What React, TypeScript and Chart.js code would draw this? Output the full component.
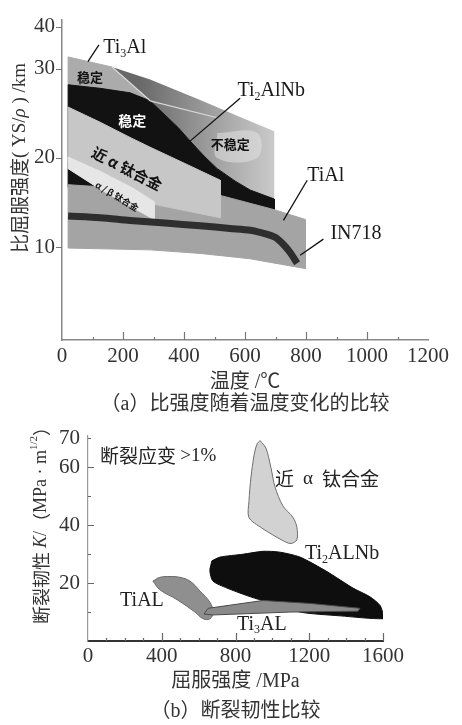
import { useEffect, useRef } from 'react';
import { Chart, registerables } from 'chart.js';

Chart.register(...registerables);

const SERIF = '"Liberation Serif", "Times New Roman", serif';
const MIXED = '"Liberation Serif", "Noto Sans CJK SC", serif';
const CJK = '"Noto Sans CJK SC", sans-serif';

Chart.defaults.font.family = SERIF;

type P = [number, number];

// ---------------- (a) specific yield strength vs temperature ----------------
const tempTicks = [0, 200, 400, 600, 800, 1000, 1200];
const tempMinor = [100, 300, 500, 700, 900, 1100];
const strengthTicks = [10, 20, 30, 40];

// [temperature °C, YS/ρ km]
const ti2alnbUnstable: P[] = [[164, 30.4], [289, 28.8], [453, 26.5], [584, 24.6], [696, 23.0], [696, 15.4], [617, 16.4], [568, 17.4], [509, 18.8], [469, 20.1], [420, 21.9], [381, 23.4], [338, 24.8], [289, 26.4]];
const ti3alStable: P[] = [[20, 32.8], [164, 30.4], [289, 26.4], [223, 27.3], [125, 27.8], [20, 28.2]];
const ti2alnbStable: P[] = [[20, 28.2], [125, 27.8], [223, 27.3], [289, 26.4], [338, 24.8], [381, 23.4], [420, 21.9], [469, 20.1], [509, 18.8], [568, 17.4], [617, 16.4], [696, 15.4], [696, 13.8], [519, 15.2], [289, 16.0], [20, 16.7]];
const tialA: P[] = [[20, 17.0], [289, 16.4], [519, 15.8], [696, 14.2], [798, 13.1], [798, 7.6], [716, 8.1], [617, 8.7], [453, 9.3], [289, 9.7], [20, 9.9]];
const nearAlphaA: P[] = [[20, 25.7], [125, 24.0], [223, 22.3], [289, 21.2], [420, 19.1], [519, 17.5], [519, 13.3], [302, 14.8], [190, 16.6], [92, 18.2], [20, 19.7]];
const alphaBeta: P[] = [[20, 20.1], [125, 18.5], [233, 16.6], [302, 15.1], [302, 13.1], [233, 14.4], [125, 16.5], [20, 18.8]];
const in718: P[] = [[20, 13.5], [125, 13.3], [223, 13.0], [338, 12.7], [453, 12.4], [551, 12.1], [617, 11.9], [667, 11.5], [699, 11.1], [726, 10.3], [748, 9.4], [771, 8.2]];
const ti3alEdge: P[] = [[164, 30.4], [289, 26.4], [509, 24.5]];
const unstablePatch: P[] = [[509, 22.8], [640, 22.8], [640, 20.0], [509, 20.0]];
const leaderTi3Al: P[] = [[121, 35.7], [85, 31.7]];
const leaderTi2AlNb: P[] = [[584, 26.7], [417, 21.8]];
const leaderTiAl: P[] = [[804, 17.5], [726, 13.0]];
const leaderIN718: P[] = [[857, 10.9], [781, 9.1]];

// the original y axis is compressed above 30 km
const compress = (v: number) => (v <= 30 ? v : 30 + (v - 30) * 0.47);
const expand = (u: number) => (u <= 30 ? u : 30 + (u - 30) / 0.47);

// ---------------- (b) fracture toughness vs yield strength ----------------
const ysTicks = [0, 400, 800, 1200, 1600];
const ysMinor = [100, 200, 300, 500, 600, 700, 900, 1000, 1100, 1300, 1400, 1500];
const kTicks = [20, 40, 60, 70];
const kMajor = [20, 40, 60];
const kMinor = [10, 30, 50, 70];

// [yield strength MPa, K MPa·m^1/2]
const nearAlphaB: P[] = [[933, 69.3], [965, 66.7], [992, 60], [1014, 53.3], [1057, 46.7], [1112, 42.7], [1133, 39.3], [1133, 35], [1101, 33.7], [1057, 34.7], [944, 39], [873, 42.7], [873, 48.3], [884, 56.7], [900, 64], [916, 68]];
const ti2alnbB: P[] = [[672, 27.7], [716, 29], [841, 30], [949, 31], [1041, 30.7], [1150, 29], [1296, 24], [1437, 18.3], [1529, 15.3], [1584, 12.3], [1600, 9.3], [1600, 7.7], [1367, 8.7], [1150, 10], [944, 14], [862, 15.7], [754, 18.3], [678, 20.7], [661, 24.3]];
const tialB: P[] = [[352, 20.7], [390, 22], [445, 22.3], [499, 22], [553, 20.7], [607, 17.3], [662, 13.3], [678, 10], [662, 7.7], [624, 7.7], [580, 10], [483, 14.3], [390, 17.7]];
const ti3alB: P[] = [[629, 9.3], [651, 11.3], [949, 14], [1204, 13], [1475, 11.3], [1464, 10.3], [1095, 10], [678, 9]];

interface Seg { t: string; sub?: boolean; sup?: boolean; italic?: boolean; latin?: boolean }
interface Note { segs: Seg[]; x: number; y: number; size: number; family: string; color: string; align: 'left' | 'center'; rot?: number; bold?: boolean }

const topNotes: Note[] = [
  { segs: [{ t: 'Ti' }, { t: '3', sub: true }, { t: 'Al' }], x: 135, y: 34.9, size: 20, family: SERIF, color: '#1a1a1a', align: 'left' },
  { segs: [{ t: '稳定' }], x: 92, y: 29.1, size: 13, family: CJK, color: '#111', align: 'center', bold: true },
  { segs: [{ t: '稳定' }], x: 230, y: 24.2, size: 14, family: CJK, color: '#fff', align: 'center', bold: true },
  { segs: [{ t: 'Ti' }, { t: '2', sub: true }, { t: 'AlNb' }], x: 575, y: 27.5, size: 20, family: SERIF, color: '#1a1a1a', align: 'left' },
  { segs: [{ t: '不稳定' }], x: 552, y: 21.6, size: 13, family: CJK, color: '#111', align: 'center', bold: true },
  { segs: [{ t: '近 α 钛合金' }], x: 213, y: 18.8, size: 15, family: CJK, color: '#111', align: 'center', bold: true, rot: 27 },
  { segs: [{ t: 'α / β 钛合金' }], x: 181, y: 15.7, size: 9, family: CJK, color: '#111', align: 'center', bold: true, rot: 31 },
  { segs: [{ t: 'TiAl' }], x: 804, y: 18.0, size: 20, family: SERIF, color: '#1a1a1a', align: 'left' },
  { segs: [{ t: 'IN718' }], x: 880, y: 11.5, size: 20, family: SERIF, color: '#1a1a1a', align: 'left' },
];

const bottomNotes: Note[] = [
  { segs: [{ t: '断裂应变 ' }, { t: '>1%', latin: true }], x: 65, y: 64, size: 19, family: CJK, color: '#222', align: 'left' },
  { segs: [{ t: '近 ' }, { t: ' α ', latin: true }, { t: ' 钛合金' }], x: 1014, y: 56, size: 19, family: CJK, color: '#222', align: 'left' },
  { segs: [{ t: 'Ti' }, { t: '2', sub: true }, { t: 'ALNb' }], x: 1177, y: 30, size: 20, family: SERIF, color: '#222', align: 'left' },
  { segs: [{ t: 'TiAL' }], x: 174, y: 14, size: 20, family: SERIF, color: '#222', align: 'left' },
  { segs: [{ t: 'Ti' }, { t: '3', sub: true }, { t: 'AL' }], x: 808, y: 5.7, size: 20, family: SERIF, color: '#222', align: 'left' },
];

const topYTitle: Note = { segs: [{ t: '比屈服强度' }, { t: '( YS/', latin: true }, { t: 'ρ', italic: true, latin: true }, { t: ' ) /km', latin: true }], x: 20, y: 158, size: 19, family: CJK, color: '#333', align: 'center', rot: -90 };
const bottomYTitle: Note = { segs: [{ t: '断裂韧性 ' }, { t: 'K', italic: true, latin: true }, { t: '/', latin: true }, { t: '（' }, { t: 'MPa · m', latin: true }, { t: '1/2', sup: true, latin: true }, { t: '）' }], x: 41, y: 106, size: 18, family: CJK, color: '#333', align: 'center', rot: -90 };

function drawNote(ctx: CanvasRenderingContext2D, n: Note, px: number, py: number) {
  ctx.save();
  ctx.translate(px, py);
  ctx.rotate(((n.rot || 0) * Math.PI) / 180);
  ctx.fillStyle = n.color;
  ctx.textBaseline = 'middle';
  ctx.textAlign = 'left';
  const fontFor = (s: Seg) => `${s.italic ? 'italic ' : ''}${n.bold ? 'bold ' : ''}${s.sub || s.sup ? Math.round(n.size * 0.62) : n.size}px ${s.latin ? SERIF : n.family}`;
  let total = 0;
  const ws = n.segs.map((s) => {
    ctx.font = fontFor(s);
    const w = ctx.measureText(s.t).width;
    total += w;
    return w;
  });
  let x = n.align === 'center' ? -total / 2 : 0;
  n.segs.forEach((s, i) => {
    ctx.font = fontFor(s);
    const dy = s.sub ? n.size * 0.28 : s.sup ? -n.size * 0.38 : 0;
    ctx.fillText(s.t, x, dy);
    x += ws[i];
  });
  ctx.restore();
}

const ident = (v: number) => v;
const toXY = (pts: P[], map: (v: number) => number, close: boolean) => {
  const d = pts.map(([x, y]) => ({ x, y: map(y) }));
  if (close) d.push({ ...d[0] });
  return d;
};
const region = (label: string, pts: P[], fill: any, border: string, bw: number, tension: number, map = ident) => ({
  label, data: toXY(pts, map, true), fill: 'shape', backgroundColor: fill, borderColor: border, borderWidth: bw, pointRadius: 0, tension,
});
const path = (label: string, pts: P[], color: string, width: number, tension: number, map = ident) => ({
  label, data: toXY(pts, map, false), fill: false, borderColor: color, borderWidth: width, pointRadius: 0, tension, borderJoinStyle: 'round',
});

interface Decor {
  notes: Note[]; yTitle: Note; yMap: (v: number) => number;
  xMajor: number[]; xMinor: number[]; yMajor: number[]; yMinor: number[]; yInside: boolean; tickColor: string;
}

const decorPlugin = (cfg: Decor) => ({
  id: 'decor',
  afterDatasetsDraw(chart: any) {
    const { ctx, scales } = chart;
    cfg.notes.forEach((n) => drawNote(ctx, n, scales.x.getPixelForValue(n.x), scales.y.getPixelForValue(cfg.yMap(n.y))));
  },
  afterDraw(chart: any) {
    const { ctx, chartArea: a, scales } = chart;
    ctx.save();
    ctx.strokeStyle = cfg.tickColor;
    ctx.lineWidth = 1.2;
    ctx.beginPath();
    cfg.xMajor.forEach((v) => { const p = Math.round(scales.x.getPixelForValue(v)) + 0.5; ctx.moveTo(p, a.bottom); ctx.lineTo(p, a.bottom - 8); });
    cfg.xMinor.forEach((v) => { const p = Math.round(scales.x.getPixelForValue(v)) + 0.5; ctx.moveTo(p, a.bottom); ctx.lineTo(p, a.bottom - 3); });
    const dir = cfg.yInside ? 1 : -1;
    cfg.yMajor.forEach((v) => { const p = Math.round(scales.y.getPixelForValue(cfg.yMap(v))) + 0.5; ctx.moveTo(a.left, p); ctx.lineTo(a.left + dir * 6, p); });
    cfg.yMinor.forEach((v) => { const p = Math.round(scales.y.getPixelForValue(cfg.yMap(v))) + 0.5; ctx.moveTo(a.left, p); ctx.lineTo(a.left + dir * 3, p); });
    ctx.stroke();
    ctx.restore();
    drawNote(ctx, cfg.yTitle, cfg.yTitle.x, cfg.yTitle.y);
  },
});

const tickFont = { family: SERIF, size: 21 };
const plainLabel = (v: any) => String(v);

function topConfig(): any {
  const unstableFill = (c: any) => {
    const ch = c.chart;
    if (!ch.chartArea) return '#999';
    const xs = ch.scales.x;
    const g = ch.ctx.createLinearGradient(xs.getPixelForValue(250), 0, xs.getPixelForValue(700), 0);
    g.addColorStop(0, '#686868');
    g.addColorStop(0.55, '#a0a0a0');
    g.addColorStop(1, '#cbcbcb');
    return g;
  };
  const ds: any[] = [
    region('Ti2AlNb 不稳定', ti2alnbUnstable, unstableFill, 'rgba(0,0,0,0)', 1, 0, compress),
    region('不稳定标注底', unstablePatch, 'rgba(225,225,225,0.55)', 'rgba(0,0,0,0)', 1, 0.4, compress),
    region('Ti3Al 稳定', ti3alStable, '#ababab', '#ababab', 1, 0, compress),
    region('Ti2AlNb 稳定', ti2alnbStable, '#121212', '#121212', 1, 0, compress),
    region('TiAl', tialA, '#a4a4a4', '#a4a4a4', 1, 0, compress),
    region('近α钛合金', nearAlphaA, '#c7c7c7', '#c7c7c7', 1, 0, compress),
    region('α/β钛合金', alphaBeta, '#e6e6e6', '#e6e6e6', 1, 0, compress),
    path('IN718', in718, '#2e2e2e', 7, 0.3, compress),
    path('Ti3Al边界', ti3alEdge, '#d8d8d8', 1.2, 0, compress),
    path('l1', leaderTi3Al, '#111', 1.3, 0, compress),
    path('l2', leaderTi2AlNb, '#111', 1.3, 0, compress),
    path('l3', leaderTiAl, '#111', 1.3, 0, compress),
    path('l4', leaderIN718, '#111', 1.3, 0, compress),
  ];
  ds.forEach((d, i) => (d.order = ds.length - i));
  return {
    type: 'line',
    data: { datasets: ds },
    options: {
      animation: false, responsive: false, devicePixelRatio: 1, events: [],
      layout: { padding: { top: 13, right: 34, left: 0, bottom: 0 } },
      plugins: { legend: { display: false }, tooltip: { enabled: false } },
      scales: {
        x: {
          type: 'linear', min: 0, max: 1200,
          afterBuildTicks: (s: any) => { s.ticks = tempTicks.map((v) => ({ value: v })); },
          ticks: { autoSkip: false, maxRotation: 0, padding: 4, color: '#333', font: tickFont, callback: plainLabel },
          grid: { display: false, drawTicks: false },
          border: { color: '#888', width: 1.5 },
          title: { display: true, text: ['温度 /℃', '（a）比强度随着温度变化的比较'], color: '#333', font: { family: MIXED, size: 20, lineHeight: 1.1 }, padding: { top: 0, bottom: 4 } },
          afterFit: (s: any) => { s.height = 80; },
        },
        y: {
          type: 'linear', min: -0.4, max: 35.5,
          afterBuildTicks: (s: any) => { s.ticks = strengthTicks.map((v) => ({ value: compress(v) })); },
          ticks: { autoSkip: false, padding: 7, color: '#333', font: tickFont, callback: (v: number) => String(Math.round(expand(v))) },
          grid: { display: false, drawTicks: false },
          border: { color: '#888', width: 1.5 },
          afterFit: (s: any) => { s.width = 62; },
        },
      },
    },
    plugins: [decorPlugin({ notes: topNotes, yTitle: topYTitle, yMap: compress, xMajor: tempTicks.slice(1, -1), xMinor: tempMinor, yMajor: strengthTicks, yMinor: [], yInside: false, tickColor: '#777' })],
  };
}

function bottomConfig(): any {
  const ds: any[] = [
    region('近α钛合金', nearAlphaB, '#d2d2d2', '#6e6e6e', 1, 0.3),
    region('Ti2ALNb', ti2alnbB, '#0e0e0e', '#0e0e0e', 1, 0.25),
    region('TiAL', tialB, '#8f8f8f', '#6a6a6a', 1, 0.4),
    region('Ti3AL', ti3alB, '#8a8a8a', '#4a4a4a', 1, 0),
  ];
  ds.forEach((d, i) => (d.order = ds.length - i));
  return {
    type: 'line',
    data: { datasets: ds },
    options: {
      animation: false, responsive: false, devicePixelRatio: 1, events: [],
      layout: { padding: { top: 13, right: 79, left: 0, bottom: 0 } },
      plugins: { legend: { display: false }, tooltip: { enabled: false } },
      scales: {
        x: {
          type: 'linear', min: 0, max: 1600,
          afterBuildTicks: (s: any) => { s.ticks = ysTicks.map((v) => ({ value: v })); },
          ticks: { autoSkip: false, maxRotation: 0, padding: 3, color: '#333', font: tickFont, callback: plainLabel },
          grid: { display: false, drawTicks: false },
          border: { color: '#333', width: 2 },
          title: { display: true, text: ['屈服强度 /MPa', '（b）断裂韧性比较'], color: '#333', font: { family: MIXED, size: 20, lineHeight: 1.5 }, padding: { top: 0, bottom: 0 } },
          afterFit: (s: any) => { s.height = 86; },
        },
        y: {
          type: 'linear', min: 0, max: 71,
          afterBuildTicks: (s: any) => { s.ticks = kTicks.map((v) => ({ value: v })); },
          ticks: { autoSkip: false, padding: 8, color: '#333', font: tickFont, callback: plainLabel },
          grid: { display: false, drawTicks: false },
          border: { color: '#999', width: 1.2 },
          afterFit: (s: any) => { s.width = 88; },
        },
      },
    },
    plugins: [decorPlugin({ notes: bottomNotes, yTitle: bottomYTitle, yMap: ident, xMajor: ysTicks.slice(1), xMinor: ysMinor, yMajor: kMajor, yMinor: kMinor, yInside: true, tickColor: '#666' })],
  };
}

export default function App() {
  const topRef = useRef<HTMLCanvasElement>(null);
  const botRef = useRef<HTMLCanvasElement>(null);
  useEffect(() => {
    document.body.style.margin = '0';
    const c1 = new Chart(topRef.current as HTMLCanvasElement, topConfig());
    const c2 = new Chart(botRef.current as HTMLCanvasElement, bottomConfig());
    return () => {
      c1.destroy();
      c2.destroy();
    };
  }, []);
  return (
    <div style={{ position: 'relative', width: 462, height: 725, overflow: 'hidden', background: '#fff' }}>
      <canvas ref={topRef} width={462} height={420} style={{ position: 'absolute', left: 0, top: 0 }} />
      <canvas ref={botRef} width={462} height={312} style={{ position: 'absolute', left: 0, top: 415 }} />
    </div>
  );
}
